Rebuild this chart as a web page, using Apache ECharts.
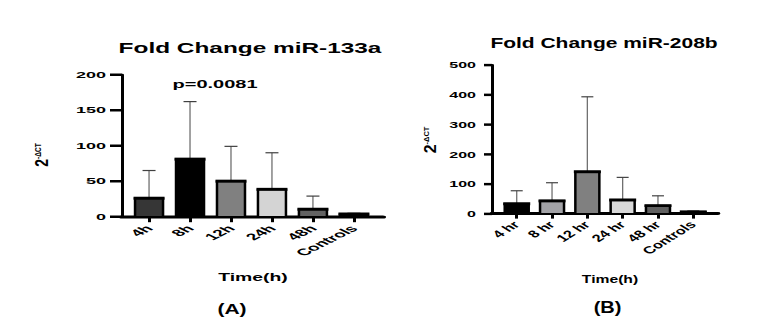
<!DOCTYPE html>
<html>
<head>
<meta charset="utf-8">
<script src="https://cdn.jsdelivr.net/npm/echarts@6/dist/echarts.min.js"></script>
<style>
  html, body { margin: 0; padding: 0; background: #fff; width: 764px; height: 333px; overflow: hidden; }
  .panel { position: absolute; top: 0; transform-origin: 0 0; }
  #panelA { left: 0; width: 400px; height: 666px; transform: scaleY(0.5); }
  #panelB { left: 400px; width: 364px; height: 537px; transform: scaleY(0.62); }
</style>
</head>
<body>
<div id="panelA" class="panel"></div>
<div id="panelB" class="panel"></div>
<script>
// ---- miR-133a fold change (panel A) ----
const catsA = ['4h', '8h', '12h', '24h', '48h', 'Controls'];
const meanA = [26, 81, 50, 38.5, 10.5, 3.8];
const sdA = [39, 81, 49, 51.5, 18.5, 1];
const yMaxA = 200, yStepA = 50;
const pValueA = 'p=0.0081';

// ---- miR-208b fold change (panel B) ----
const catsB = ['4 hr', '8 hr', '12 hr', '24 hr', '48 hr', 'Controls'];
const meanB = [33, 43, 141, 46, 27, 6];
const sdB = [44, 61, 252, 76, 33, 3];
const yMaxB = 500, yStepB = 100;

const FONT = '"Liberation Sans", Arial, sans-serif';

function barRenderer(cfg) {
  return function (params, api) {
    const xi = api.value(0), m = api.value(1), sd = api.value(2);
    const top = api.coord([xi, m]);
    const base = api.coord([xi, 0]);
    const et = api.coord([xi, m + sd]);
    const w = cfg.barW;
    return {
      type: 'group',
      children: [
        { type: 'line', shape: { x1: top[0], y1: top[1], x2: et[0], y2: et[1] },
          style: { stroke: '#707070', lineWidth: 1.3 } },
        { type: 'line', shape: { x1: et[0] - cfg.errCap / 2, y1: et[1], x2: et[0] + cfg.errCap / 2, y2: et[1] },
          style: { stroke: '#404040', lineWidth: cfg.errCapT } },
        { type: 'rect', shape: { x: top[0] - w / 2, y: top[1], width: w, height: base[1] - top[1] },
          style: { fill: cfg.colors[params.dataIndex], stroke: '#000', lineWidth: 2.5 } },
        { type: 'rect', shape: { x: top[0] - cfg.capW / 2, y: top[1] - cfg.capT / 2, width: cfg.capW, height: cfg.capT },
          style: { fill: '#000' } }
      ]
    };
  };
}

function buildPanel(dom, cfg) {
  const chart = echarts.init(dom, null, { renderer: 'svg' });
  const idx = cfg.cats.map((c, i) => i);
  chart.setOption({
    animation: false,
    backgroundColor: 'transparent',
    grid: cfg.grid,
    xAxis: {
      type: 'value',
      min: cfg.xMin, max: cfg.xMax,
      splitLine: { show: false },
      axisLine: { onZero: false, lineStyle: { color: '#000', width: cfg.xLineW } },
      axisTick: { customValues: idx, length: cfg.xTickLen, lineStyle: { color: '#000', width: 3 } },
      axisLabel: {
        customValues: idx,
        formatter: v => cfg.cats[Math.round(v)],
        rotate: 45, margin: cfg.xLabelMargin,
        color: '#000', fontFamily: FONT, fontWeight: 'bold', fontSize: cfg.xLabelSize
      }
    },
    yAxis: {
      type: 'value',
      min: 0, max: cfg.yMax, interval: cfg.yStep,
      splitLine: { show: false },
      axisLine: { show: true, onZero: false, lineStyle: { color: '#000', width: 3 } },
      axisTick: { show: true, length: cfg.yTickLen, lineStyle: { color: '#000', width: cfg.yTickW } },
      axisLabel: { margin: cfg.yLabelMargin, color: '#000', fontFamily: FONT, fontWeight: 'bold', fontSize: cfg.yLabelSize }
    },
    series: [{
      type: 'custom',
      renderItem: barRenderer(cfg),
      encode: { x: 0, y: 1 },
      data: cfg.cats.map((c, i) => [i, cfg.mean[i], cfg.sd[i]])
    }],
    graphic: cfg.texts
  });
  return chart;
}

function label(text, x, y, size, scaleY) {
  return {
    type: 'text', x: x, y: y, scaleY: scaleY,
    style: { text: text, fill: '#000', fontFamily: FONT, fontWeight: 'bold', fontSize: size,
             align: 'center', verticalAlign: 'middle' }
  };
}

// Vertical axis title 2^-ΔCT, reading bottom to top; split point sits between base and exponent
function yName(x, y, baseSize, supSize, stretch, split, raise) {
  const txt = (t, size, align, dy) => ({
    type: 'text', x: split, y: dy,
    style: { text: t, fill: '#000', fontFamily: FONT, fontWeight: 'bold', fontSize: size,
             align: align, verticalAlign: 'middle' }
  });
  return {
    type: 'group', x: x, y: y, rotation: Math.PI / 2, scaleX: stretch,
    children: [txt('2', baseSize, 'right', 0), txt('-ΔCT', supSize, 'left', -raise)]
  };
}

buildPanel(document.getElementById('panelA'), {
  cats: catsA, mean: meanA, sd: sdA, yMax: yMaxA, yStep: yStepA,
  colors: ['#363636', '#000000', '#808080', '#d4d4d4', '#626262', '#000000'],
  grid: { left: 122, right: 17, top: 149.2, bottom: 232.6 },
  xMin: -0.66, xMax: 5.71,
  xLineW: 6, xTickLen: 11, xLabelMargin: 20, xLabelSize: 19,
  yTickLen: 12, yTickW: 5, yLabelMargin: 16, yLabelSize: 18,
  barW: 28, capW: 31, capT: 6, errCap: 13, errCapT: 2.4,
  texts: [
    label('Fold Change miR-133a', 250, 95.6, 24.4, 1.26),
    label(pValueA, 215, 166.6, 20, 1.15),
    yName(41.7, 310, 18, 8.5, 1.55, -5, 3.5),
    label('Time(h)', 253, 553.4, 19.4, 1.2),
    label('(A)', 232, 618, 21, 1.46)
  ]
});

buildPanel(document.getElementById('panelB'), {
  cats: catsB, mean: meanB, sd: sdB, yMax: yMaxB, yStep: yStepB,
  colors: ['#000000', '#a2a2a6', '#808080', '#d8d8d8', '#606060', '#000000'],
  grid: { left: 92, right: 46, top: 104.8, bottom: 192.4 },
  xMin: -0.70, xMax: 5.70,
  xLineW: 4.8, xTickLen: 8, xLabelMargin: 15, xLabelSize: 16.5,
  yTickLen: 8, yTickW: 4, yLabelMargin: 16, yLabelSize: 16,
  barW: 24, capW: 27, capT: 4.8, errCap: 12, errCapT: 1.9,
  texts: [
    label('Fold Change miR-208b', 204, 69.8, 21, 1.07),
    yName(30, 225.8, 17, 8, 1.5, -4.75, 3.5),
    label('Time(h)', 210, 450, 15.7, 1.1),
    label('(B)', 207.5, 496, 20, 1.32)
  ]
});
</script>
</body>
</html>
